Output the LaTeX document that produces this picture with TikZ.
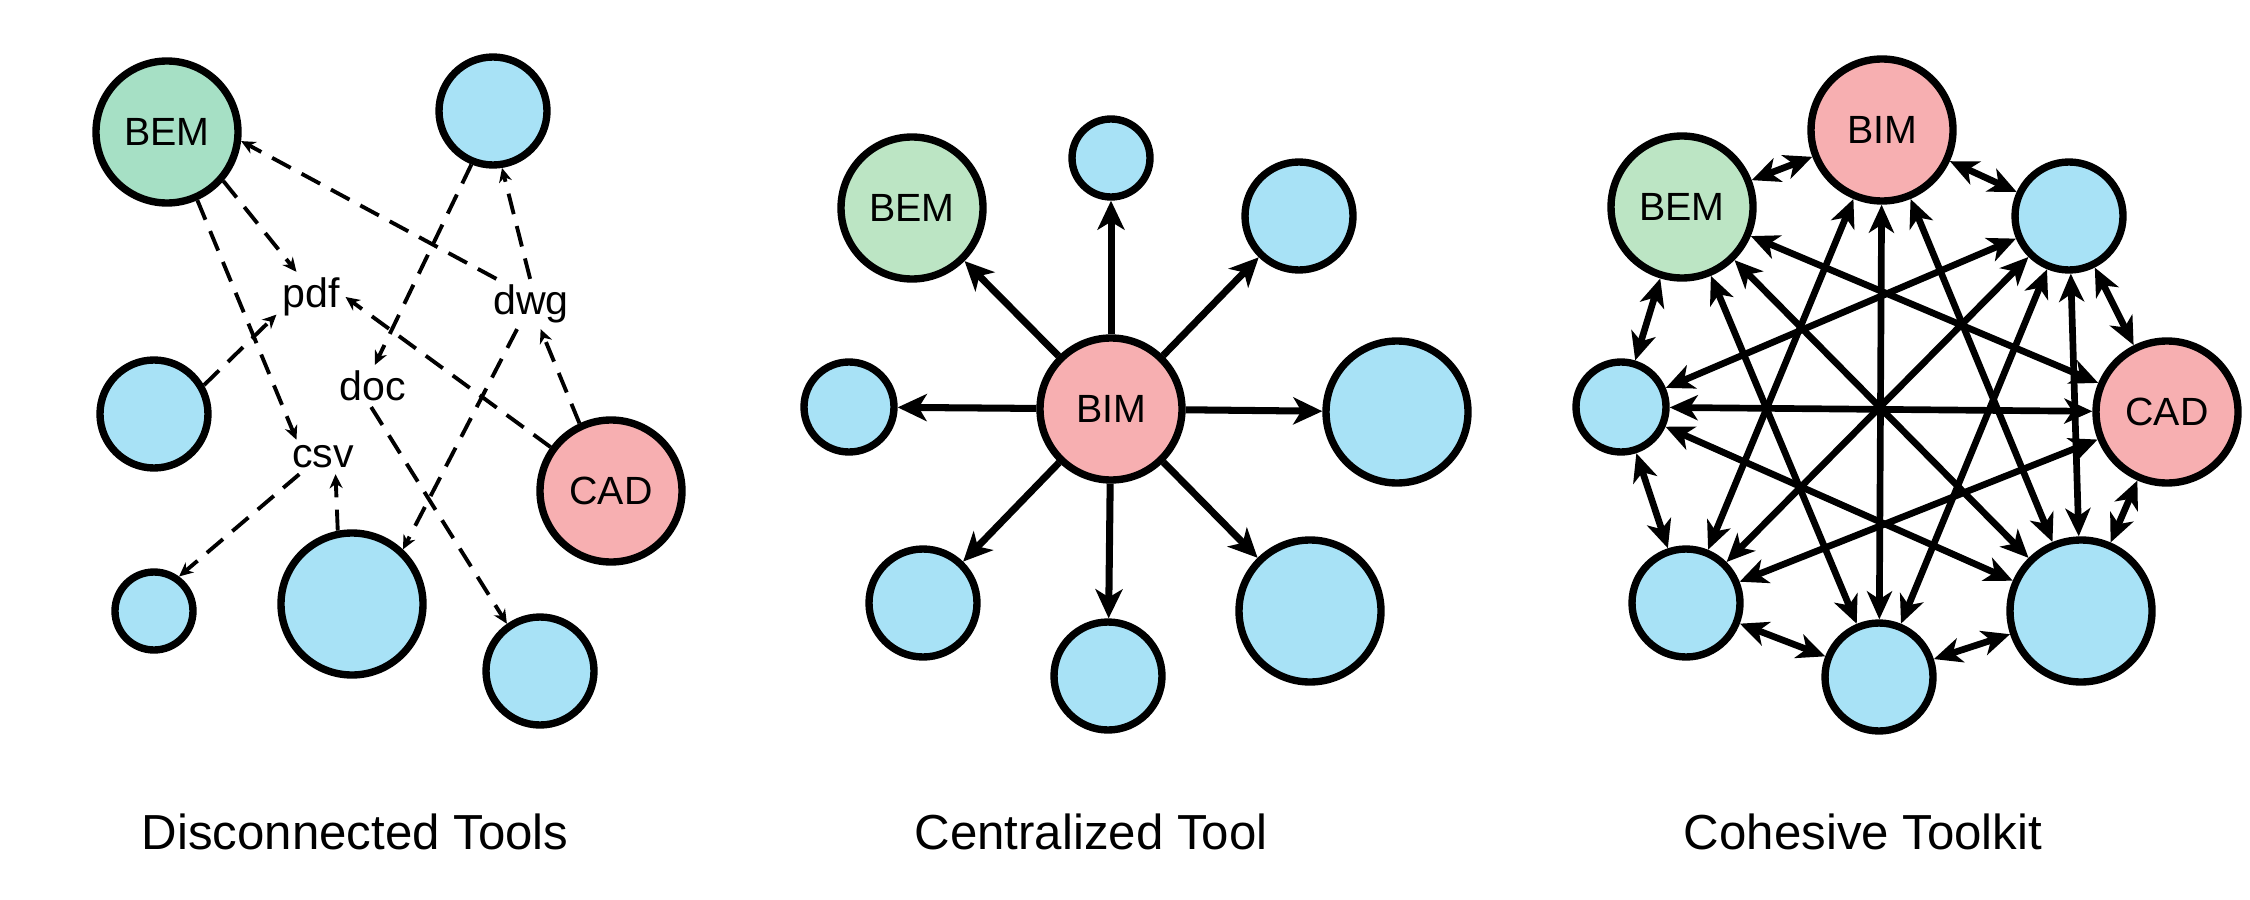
\documentclass[tikz,border=0pt]{standalone}
\usepackage{fontspec}
\setmainfont{Liberation Sans}
\usetikzlibrary{arrows.meta}
\definecolor{toolblue}{RGB}{168,226,246}
\definecolor{bemgreen}{RGB}{166,224,197}
\definecolor{bemlight}{RGB}{188,229,196}
\definecolor{bimpink}{RGB}{247,175,177}

\begin{document}
\begin{tikzpicture}[x=0.1mm, y=-0.1mm,
        tool/.style={circle, draw, line width=2.1pt, fill=toolblue, inner sep=0pt, font=\fontsize{11.2}{13}\selectfont},
        bigtool/.style={tool, minimum size=14.2mm},
        midtool/.style={tool, minimum size=10.8mm},
        smltool/.style={tool, minimum size=9mm},
        tinytool/.style={tool, minimum size=7.8mm},
        fmt/.style={inner sep=1.5pt, font=\fontsize{11.7}{13}\selectfont},
        paneltitle/.style={font=\fontsize{14}{16}\selectfont},
        filearrow/.style={line width=1.1pt, dash pattern=on 6pt off 3.5pt, -{Stealth[length=1.4mm,width=1.3mm,inset=0.45mm]}},
        hubarrow/.style={line width=2pt, -{Stealth[length=2.9mm,width=2.7mm,inset=0.8mm]}},
        meshlink/.style={line width=1.9pt, {Stealth[length=2.8mm,width=2.5mm,inset=0.8mm]}-{Stealth[length=2.8mm,width=2.5mm,inset=0.8mm]}}]
                        \useasboundingbox (0,0) rectangle (2250,900);

                        \node[bigtool, fill=bemgreen] (p1bem) at (167,132) {BEM};
                        \node[midtool] (p1top) at (493,111) {};
                        \node[midtool] (p1left) at (154,414) {};
                        \node[bigtool, fill=bimpink] (p1cad) at (611,491) {CAD};
                        \node[tinytool] (p1small) at (154,611) {};
                        \node[bigtool] (p1big) at (352,604) {};
                        \node[midtool] (p1low) at (540,671) {};

                        \node[fmt] (pdf) at (311,297) {pdf};
                        \node[fmt] (dwg) at (531,304) {dwg};
                        \node[fmt] (doc) at (373,386) {doc};
                        \node[fmt] (csv) at (323,457) {csv};

                        \draw[filearrow] (dwg.144) -- (p1bem.-7);
                        \draw[filearrow] (p1bem.-41) -- (pdf.120);
                        \draw[filearrow] (p1bem.-66) -- (csv.147);
                        \draw[filearrow] (p1left.30) -- (pdf.207);
                        \draw[filearrow] (p1top.248) -- (doc.85);
                        \draw[filearrow] (dwg.92) -- (p1top.-81);
                        \draw[filearrow] (p1cad.144) -- (pdf.east);
                        \draw[filearrow] (p1cad.115) -- (dwg.-69);
                        \draw[filearrow] (dwg.241) -- (p1big.47);
                        \draw[filearrow] (doc.-95) -- (p1low.125);
                        \draw[filearrow] (csv.216) -- (p1small.54);
                        \draw[filearrow] (p1big.101) -- (csv.-54);

                        \node[bigtool, fill=bimpink] (p2bim) at (1111,409) {BIM};
                        \node[bigtool, fill=bemlight] (p2bem) at (912,208) {BEM};
                        \node[tinytool] (p2top) at (1111,158) {};
                        \node[midtool] (p2ne) at (1299,216) {};
                        \node[smltool] (p2w) at (849,407) {};
                        \node[bigtool] (p2e) at (1397,412) {};
                        \node[midtool] (p2sw) at (923,603) {};
                        \node[midtool] (p2s) at (1108,676) {};
                        \node[bigtool] (p2se) at (1310,611) {};

                        \draw[hubarrow] (p2bim) -- (p2bem);
                        \draw[hubarrow] (p2bim) -- (p2top);
                        \draw[hubarrow] (p2bim) -- (p2ne);
                        \draw[hubarrow] (p2bim) -- (p2w);
                        \draw[hubarrow] (p2bim) -- (p2e);
                        \draw[hubarrow] (p2bim) -- (p2sw);
                        \draw[hubarrow] (p2bim) -- (p2s);
                        \draw[hubarrow] (p2bim) -- (p2se);

                        \node[bigtool, fill=bimpink] (p3bim) at (1882,130) {BIM};
                        \node[bigtool, fill=bemlight] (p3bem) at (1682,207) {BEM};
                        \node[midtool] (p3ne) at (2069,216) {};
                        \node[bigtool, fill=bimpink] (p3cad) at (2167,412) {CAD};
                        \node[smltool] (p3w) at (1621,407) {};
                        \node[midtool] (p3sw) at (1686,603) {};
                        \node[midtool] (p3s) at (1879,677) {};
                        \node[bigtool] (p3se) at (2081,611) {};

                        \draw[meshlink] (p3bim) -- (p3ne);
                        \draw[meshlink] (p3ne) -- (p3cad);
                        \draw[meshlink] (p3cad) -- (p3se);
                        \draw[meshlink] (p3se) -- (p3s);
                        \draw[meshlink] (p3s) -- (p3sw);
                        \draw[meshlink] (p3sw) -- (p3w);
                        \draw[meshlink] (p3w) -- (p3bem);
                        \draw[meshlink] (p3bem) -- (p3bim);
                        \draw[meshlink] (p3bim) -- (p3se);
                        \draw[meshlink] (p3bim) -- (p3sw);
                        \draw[meshlink] (p3bim) -- (p3s);
                        \draw[meshlink] (p3ne) -- (p3s);
                        \draw[meshlink] (p3ne) -- (p3w);
                        \draw[meshlink] (p3ne) -- (p3sw);
                        \draw[meshlink] (p3ne) -- (p3se);
                        \draw[meshlink] (p3cad) -- (p3sw);
                        \draw[meshlink] (p3cad) -- (p3bem);
                        \draw[meshlink] (p3cad) -- (p3w);
                        \draw[meshlink] (p3se) -- (p3w);
                        \draw[meshlink] (p3se) -- (p3bem);
                        \draw[meshlink] (p3s) -- (p3bem);

                        \node[paneltitle] (t1) at (355,832) {Disconnected Tools};
                        \node[paneltitle] (t2) at (1091,832) {Centralized Tool};
                        \node[paneltitle] (t3) at (1863,832) {Cohesive Toolkit};
                    \end{tikzpicture}
\end{document}
